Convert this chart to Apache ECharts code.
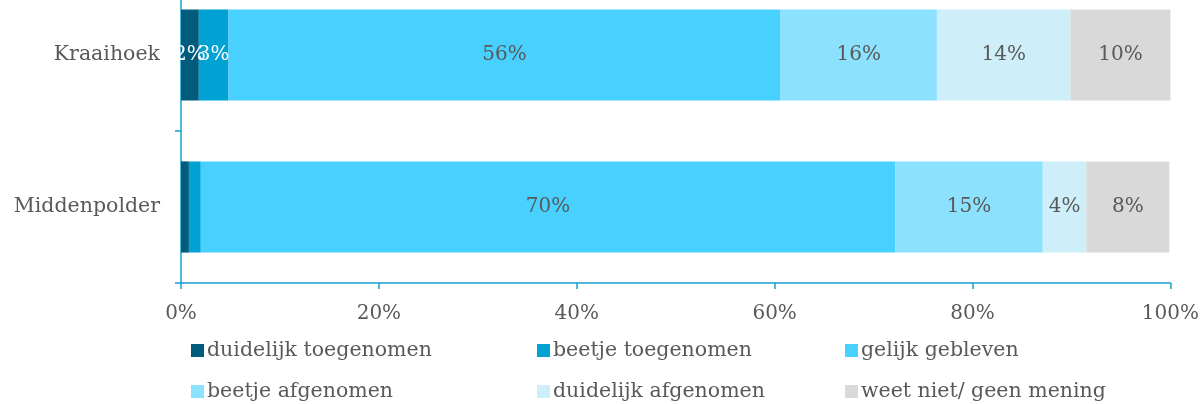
<!DOCTYPE html>
<html>
<head>
<meta charset="utf-8">
<script src="https://cdn.jsdelivr.net/npm/echarts@6/dist/echarts.min.js"></script>
<style>
  html, body { margin: 0; padding: 0; background: #fff; overflow: hidden; }
  /* the plot's first band starts above the visible top, so the chart box is shifted up */
  #chart { width: 1202px; height: 425px; margin-top: -21px; }
</style>
</head>
<body>
<div id="chart"></div>
<script>
  // categories (top to bottom)
  let categories = ['Kraaihoek', 'Middenpolder']
  // answer groups, one series each
  let seriesNames = ['duidelijk toegenomen', 'beetje toegenomen', 'gelijk gebleven', 'beetje afgenomen', 'duidelijk afgenomen', 'weet niet/ geen mening']
  let duidelijkToe = [1.8, 0.8]
  let beetjeToe = [3.0, 1.2]
  let gelijk = [55.8, 70.2]
  let beetjeAf = [15.8, 14.9]
  let duidelijkAf = [13.5, 4.4]
  let weetNiet = [10.1, 8.4]
  let xTicks = [0, 20, 40, 60, 80, 100]

  let colors = ['#005b7c', '#00a2d3', '#48d1ff', '#8ce1ff', '#ceeef9', '#d9d9d9']
  let labelColors = ['#ffffff', '#ffffff', '#595959', '#595959', '#595959', '#595959']
  let values = [duidelijkToe, beetjeToe, gelijk, beetjeAf, duidelijkAf, weetNiet]
  let font = '"DejaVu Serif", serif'
  let axisColor = '#1a9fd0'

  let series = values.map((v, i) => ({
    name: seriesNames[i],
    type: 'bar',
    stack: 'total',
    barWidth: '60%',
    itemStyle: { color: colors[i] },
    label: {
      show: true,
      position: 'inside',
      color: labelColors[i],
      fontFamily: font,
      fontSize: 20,
      formatter: p => p.value < 1.5 ? '' : Math.round(p.value) + '%'
    },
    data: v
  }))

  // legend placed as 2 rows x 3 columns (offsets include the 21px shift)
  let legendPos = [[186, 356], [532, 356], [840, 356], [186, 397], [532, 397], [840, 397]]
  let legends = seriesNames.map((n, i) => ({
    data: [n],
    left: legendPos[i][0],
    top: legendPos[i][1],
    icon: 'rect',
    itemWidth: 13,
    itemHeight: 13,
    itemGap: 0,
    selectedMode: false,
    textStyle: { fontFamily: font, fontSize: 20.5, color: '#595959', padding: [0, 0, 0, -2] }
  }))

  let chart = echarts.init(document.getElementById('chart'))
  chart.setOption({
    animation: false,
    backgroundColor: '#ffffff',
    grid: { left: 181, right: 31, top: 0, bottom: 121, containLabel: false },
    legend: legends,
    xAxis: {
      type: 'value',
      min: 0,
      max: 100,
      interval: 20,
      axisLine: { show: true, lineStyle: { color: axisColor, width: 1.5 } },
      axisTick: { show: true, length: 6, lineStyle: { color: axisColor, width: 1.5 } },
      splitLine: { show: false },
      axisLabel: {
        margin: 21,
        fontFamily: font,
        fontSize: 20,
        color: '#595959',
        formatter: v => xTicks.includes(v) ? v + '%' : ''
      }
    },
    yAxis: {
      type: 'category',
      inverse: true,
      data: categories,
      axisLine: { show: true, lineStyle: { color: axisColor, width: 1.5 } },
      axisTick: { show: true, length: 6, lineStyle: { color: axisColor, width: 1.5 } },
      axisLabel: { margin: 21, fontFamily: font, fontSize: 20.5, color: '#595959' }
    },
    series: series
  })
</script>
</body>
</html>
